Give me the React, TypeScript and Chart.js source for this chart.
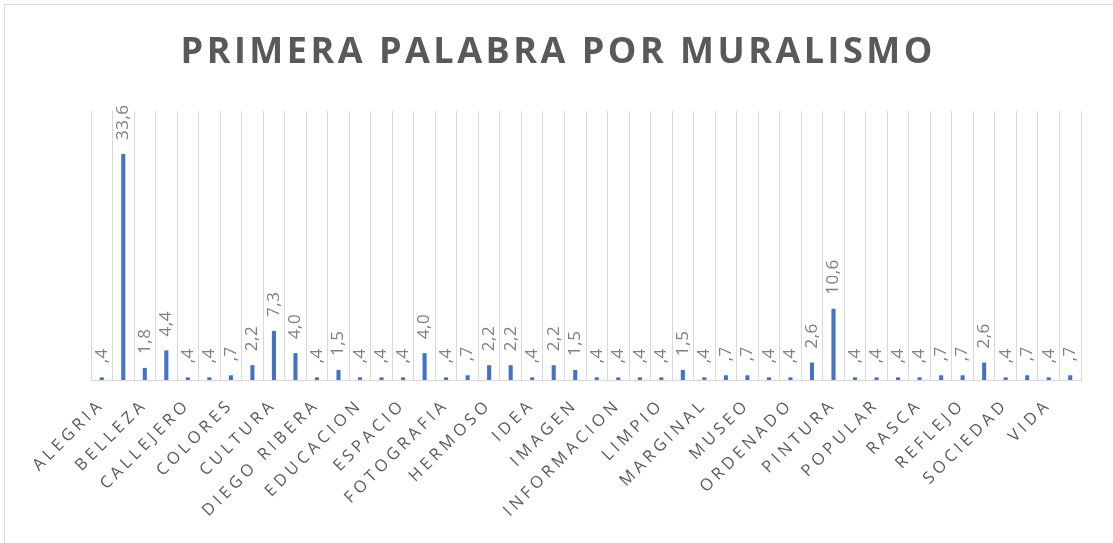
import React, { useEffect, useRef } from 'react';
import { Chart, registerables } from 'chart.js';

Chart.register(...registerables);

const TITLE = 'PRIMERA PALABRA POR MURALISMO';

const CATEGORIES: string[] = [
  'ALEGRIA', 'ARTE', 'BELLEZA', 'BONITO', 'CALLEJERO', 'CIUDAD', 'COLORES', 'CREATIVIDAD',
  'CULTURA', 'DIBUJO', 'DIEGO RIBERA', 'DISEÑO', 'EDUCACION', 'ENSEÑANZA', 'ESPACIO', 'EXPRESION',
  'FOTOGRAFIA', 'GRAFITI', 'HERMOSO', 'HISTORIA', 'IDEA', 'IDENTIDAD', 'IMAGEN', 'INDIGENA',
  'INFORMACION', 'LIBERTAD', 'LIMPIO', 'LUCHA', 'MARGINAL', 'MEXICO', 'MUSEO', 'OBRA',
  'ORDENADO', 'PARED', 'PINTURA', 'POLITICA', 'POPULAR', 'PUEBLO', 'RASCA', 'REALIDAD',
  'REFLEJO', 'REVOLUCION', 'SOCIEDAD', 'URBANO', 'VIDA', 'VIOLENCIA',
];

const VALUES: number[] = [
  0.4, 33.6, 1.8, 4.4, 0.4, 0.4, 0.7, 2.2,
  7.3, 4.0, 0.4, 1.5, 0.4, 0.4, 0.4, 4.0,
  0.4, 0.7, 2.2, 2.2, 0.4, 2.2, 1.5, 0.4,
  0.4, 0.4, 0.4, 1.5, 0.4, 0.7, 0.7, 0.4,
  0.4, 2.6, 10.6, 0.4, 0.4, 0.4, 0.4, 0.7,
  0.7, 2.6, 0.4, 0.7, 0.4, 0.7,
];

const Y_MIN = 0;
const Y_MAX = 40;

function fmt(v: number): string {
  return v.toFixed(1).replace('.', ',').replace(/^0/, '');
}

export default function App() {
  const ref = useRef<HTMLCanvasElement | null>(null);

  useEffect(() => {
    if (!ref.current) return;

    const excelLook = {
      id: 'excelLook',
      beforeLayout(chart: any) {
        chart.ctx.letterSpacing = '4px';
      },
      beforeDraw(chart: any) {
        const ctx = chart.ctx;
        ctx.save();
        ctx.letterSpacing = '0px';
        ctx.strokeStyle = '#d9d9d9';
        ctx.lineWidth = 1;
        ctx.strokeRect(4.5, 4.5, chart.width + 20, chart.height + 20);
        ctx.restore();
        ctx.letterSpacing = '4px';
      },
      afterDatasetsDraw(chart: any) {
        const ctx = chart.ctx;
        const meta = chart.getDatasetMeta(0);
        ctx.save();
        ctx.letterSpacing = '0.5px';
        ctx.font = '17px "Open Sans"';
        ctx.fillStyle = '#7f7f7f';
        ctx.textAlign = 'left';
        ctx.textBaseline = 'middle';
        meta.data.forEach((el: any, i: number) => {
          ctx.save();
          ctx.translate(el.x, el.y - 14);
          ctx.rotate(-Math.PI / 2);
          ctx.fillText(fmt(VALUES[i]), 0, 0);
          ctx.restore();
        });
        ctx.restore();
      },
      afterDraw(chart: any) {
        const ctx = chart.ctx;
        ctx.save();
        ctx.letterSpacing = '3.5px';
        ctx.font = 'bold 36px "Open Sans"';
        ctx.fillStyle = '#595959';
        ctx.textAlign = 'center';
        ctx.textBaseline = 'middle';
        ctx.fillText(TITLE, chart.width / 2 + 1.75, 53);
        ctx.restore();
      },
    };

    const chart = new Chart(ref.current, {
      type: 'bar',
      data: {
        labels: CATEGORIES,
        datasets: [
          {
            data: VALUES,
            backgroundColor: '#4472C4',
            borderWidth: 0,
            barPercentage: 0.19,
            categoryPercentage: 1,
          },
        ],
      },
      options: {
        animation: false,
        responsive: true,
        maintainAspectRatio: false,
        layout: { padding: { top: 111, left: 91, right: 32, bottom: 0 } },
        plugins: {
          legend: { display: false },
          tooltip: { enabled: false },
          title: { display: false },
        },
        scales: {
          x: {
            offset: true,
            grid: { color: '#d9d9d9', lineWidth: 1, offset: true, drawTicks: false },
            border: { color: '#d9d9d9', width: 1 },
            ticks: {
              autoSkip: false,
              minRotation: 45,
              maxRotation: 45,
              padding: 15,
              color: '#595959',
              font: { family: 'Open Sans', size: 16.5 },
              callback: (_v: any, i: number) => (i % 2 === 0 ? CATEGORIES[i] : ''),
            },
            afterFit: (scale: any) => {
              scale.height = 163;
            },
          },
          y: {
            display: false,
            min: Y_MIN,
            max: Y_MAX,
          },
        },
      },
      plugins: [excelLook],
    });

    return () => chart.destroy();
  }, []);

  return (
    <div style={{ position: 'fixed', left: 0, top: 0, width: 1113, height: 543, background: '#fff' }}>
      <canvas ref={ref} />
    </div>
  );
}
